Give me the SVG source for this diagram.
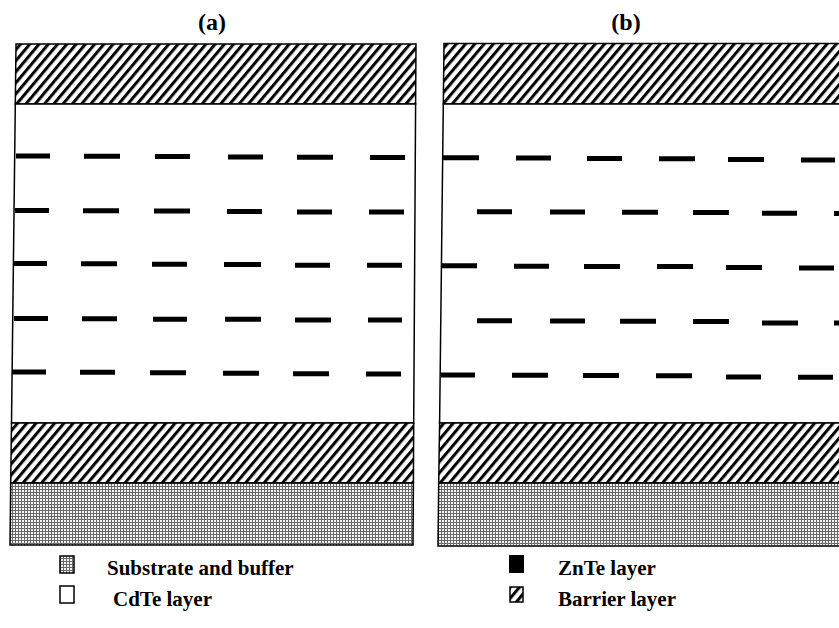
<svg xmlns="http://www.w3.org/2000/svg" width="839" height="628" viewBox="0 0 839 628">
  <style>
    .band { stroke: #000; stroke-width: 1.5; }
    .hatch { fill: url(#hatch); }
    .grid { fill: url(#grid); }
    .clear { fill: #fff; }
    .dash { stroke: #000; stroke-width: 5; stroke-linecap: butt; }
    .title { font-family: "Liberation Serif", "Times New Roman", serif; font-weight: bold; font-size: 24px; text-anchor: middle; }
    .legend { font-family: "Liberation Serif", "Times New Roman", serif; font-weight: bold; font-size: 21px; }
  </style>
  <defs>
    <!-- diagonal stripes used for barrier layers -->
    <pattern id="hatch" patternUnits="userSpaceOnUse" width="7.1" height="20" patternTransform="rotate(40)">
      <rect x="0" y="0" width="7.1" height="20" fill="#fff"/>
      <rect x="0" y="0" width="3" height="20" fill="#000"/>
    </pattern>
    <!-- fine grid used for substrate and buffer -->
    <pattern id="grid" patternUnits="userSpaceOnUse" width="3" height="3">
      <rect x="0" y="0" width="3" height="3" fill="#f4f4f4"/>
      <rect x="0" y="0" width="3" height="1" fill="#6a6a6a"/>
      <rect x="0" y="0" width="1" height="3" fill="#6a6a6a"/>
    </pattern>
    <clipPath id="page"><rect x="0" y="0" width="839" height="628"/></clipPath>
  </defs>

  <rect x="0" y="0" width="839" height="628" fill="#fff"/>

  <!-- panel (a) -->
  <g id="panel-a">
    <text class="title" x="212" y="30">(a)</text>
    <polygon class="band hatch" points="16,44 416,44 415.6,104 15.3,104"/>
    <polygon class="band clear" points="15.3,104 415.6,104 413.7,423 11.5,423"/>
    <polygon class="band hatch" points="11.5,423 413.7,423 413.4,483 10.7,483"/>
    <polygon class="band grid" points="10.7,483 413.4,483 413,545 10,545"/>
    <g id="wells-a">
      <line class="dash" x1="16" y1="156" x2="50" y2="156"/>
      <line class="dash" x1="84" y1="156.3" x2="120" y2="156.3"/>
      <line class="dash" x1="155" y1="156.6" x2="190" y2="156.6"/>
      <line class="dash" x1="228" y1="157" x2="263" y2="157"/>
      <line class="dash" x1="297" y1="157.3" x2="333" y2="157.3"/>
      <line class="dash" x1="370" y1="157.5" x2="405" y2="157.5"/>

      <line class="dash" x1="15" y1="210.5" x2="49" y2="210.5"/>
      <line class="dash" x1="83" y1="210.8" x2="119" y2="210.8"/>
      <line class="dash" x1="154" y1="211.1" x2="190" y2="211.1"/>
      <line class="dash" x1="227" y1="211.4" x2="262" y2="211.4"/>
      <line class="dash" x1="297" y1="212" x2="332" y2="212"/>
      <line class="dash" x1="369" y1="212" x2="404" y2="212"/>

      <line class="dash" x1="13" y1="263.5" x2="47" y2="263.5"/>
      <line class="dash" x1="81" y1="263.8" x2="117" y2="263.8"/>
      <line class="dash" x1="152" y1="264.2" x2="187" y2="264.2"/>
      <line class="dash" x1="224" y1="264.5" x2="261" y2="264.5"/>
      <line class="dash" x1="295" y1="265.3" x2="330" y2="265.3"/>
      <line class="dash" x1="367" y1="265.3" x2="402" y2="265.3"/>

      <line class="dash" x1="14" y1="318.5" x2="48" y2="318.5"/>
      <line class="dash" x1="82" y1="318.8" x2="117" y2="318.8"/>
      <line class="dash" x1="153" y1="319.2" x2="187" y2="319.2"/>
      <line class="dash" x1="225" y1="319.3" x2="261" y2="319.3"/>
      <line class="dash" x1="295" y1="320" x2="331" y2="320"/>
      <line class="dash" x1="368" y1="320" x2="402" y2="320"/>

      <line class="dash" x1="12" y1="372" x2="46" y2="372"/>
      <line class="dash" x1="80" y1="372.3" x2="115" y2="372.3"/>
      <line class="dash" x1="150" y1="372.8" x2="186" y2="372.8"/>
      <line class="dash" x1="223" y1="373.2" x2="259" y2="373.2"/>
      <line class="dash" x1="293" y1="373.8" x2="329" y2="373.8"/>
      <line class="dash" x1="366" y1="374" x2="401" y2="374"/>
    </g>
  </g>

  <!-- panel (b) -->
  <g id="panel-b" clip-path="url(#page)">
    <text class="title" x="626" y="30">(b)</text>
    <polygon class="band hatch" points="444,43.5 850,43.5 850,104 443.3,104"/>
    <polygon class="band clear" points="443.3,104 850,104 850,423 439.6,423"/>
    <polygon class="band hatch" points="439.6,423 850,423 850,483 438.7,483"/>
    <polygon class="band grid" points="438.7,483 850,483 850,546 438,546"/>
    <g id="wells-b">
      <line class="dash" x1="443" y1="157.8" x2="479" y2="157.8"/>
      <line class="dash" x1="516" y1="158" x2="551" y2="158"/>
      <line class="dash" x1="587" y1="158.5" x2="622" y2="158.5"/>
      <line class="dash" x1="659" y1="158.8" x2="695" y2="158.8"/>
      <line class="dash" x1="728" y1="159.5" x2="764" y2="159.5"/>
      <line class="dash" x1="801" y1="160" x2="835" y2="160"/>

      <line class="dash" x1="477" y1="211.8" x2="512" y2="211.8"/>
      <line class="dash" x1="550" y1="212" x2="585" y2="212"/>
      <line class="dash" x1="622" y1="212.3" x2="658" y2="212.3"/>
      <line class="dash" x1="693" y1="212.5" x2="729" y2="212.5"/>
      <line class="dash" x1="762" y1="213.3" x2="797" y2="213.3"/>
      <line class="dash" x1="834" y1="213.5" x2="845" y2="213.5"/>

      <line class="dash" x1="442" y1="265.8" x2="477" y2="265.8"/>
      <line class="dash" x1="514" y1="266.2" x2="549" y2="266.2"/>
      <line class="dash" x1="584" y1="266.4" x2="620" y2="266.4"/>
      <line class="dash" x1="657" y1="266.6" x2="693" y2="266.6"/>
      <line class="dash" x1="726" y1="267.5" x2="762" y2="267.5"/>
      <line class="dash" x1="799" y1="268" x2="834" y2="268"/>

      <line class="dash" x1="477" y1="320.8" x2="512" y2="320.8"/>
      <line class="dash" x1="550" y1="321" x2="585" y2="321"/>
      <line class="dash" x1="620" y1="321.3" x2="656" y2="321.3"/>
      <line class="dash" x1="693" y1="321.5" x2="729" y2="321.5"/>
      <line class="dash" x1="762" y1="323" x2="798" y2="323"/>
      <line class="dash" x1="834" y1="323" x2="845" y2="323"/>

      <line class="dash" x1="441" y1="375" x2="475" y2="375"/>
      <line class="dash" x1="512" y1="375.2" x2="548" y2="375.2"/>
      <line class="dash" x1="583" y1="375.5" x2="619" y2="375.5"/>
      <line class="dash" x1="656" y1="375.8" x2="692" y2="375.8"/>
      <line class="dash" x1="726" y1="377" x2="761" y2="377"/>
      <line class="dash" x1="798" y1="377.2" x2="833" y2="377.2"/>
    </g>
  </g>

  <!-- key -->
  <g id="key-substrate">
    <rect class="band grid" x="60" y="556" width="14" height="17" stroke-width="1.2"/>
    <text class="legend" x="107" y="575">Substrate and buffer</text>
  </g>
  <g id="key-cdte">
    <rect class="band clear" x="60" y="586" width="14" height="17" stroke-width="1.2"/>
    <text class="legend" x="113" y="606">CdTe layer</text>
  </g>
  <g id="key-znte">
    <rect x="509" y="555" width="15" height="18" fill="#000"/>
    <text class="legend" x="558" y="575">ZnTe layer</text>
  </g>
  <g id="key-barrier">
    <rect class="band hatch" x="510" y="587" width="13" height="15" stroke-width="1.2"/>
    <text class="legend" x="558" y="606">Barrier layer</text>
  </g>
</svg>
